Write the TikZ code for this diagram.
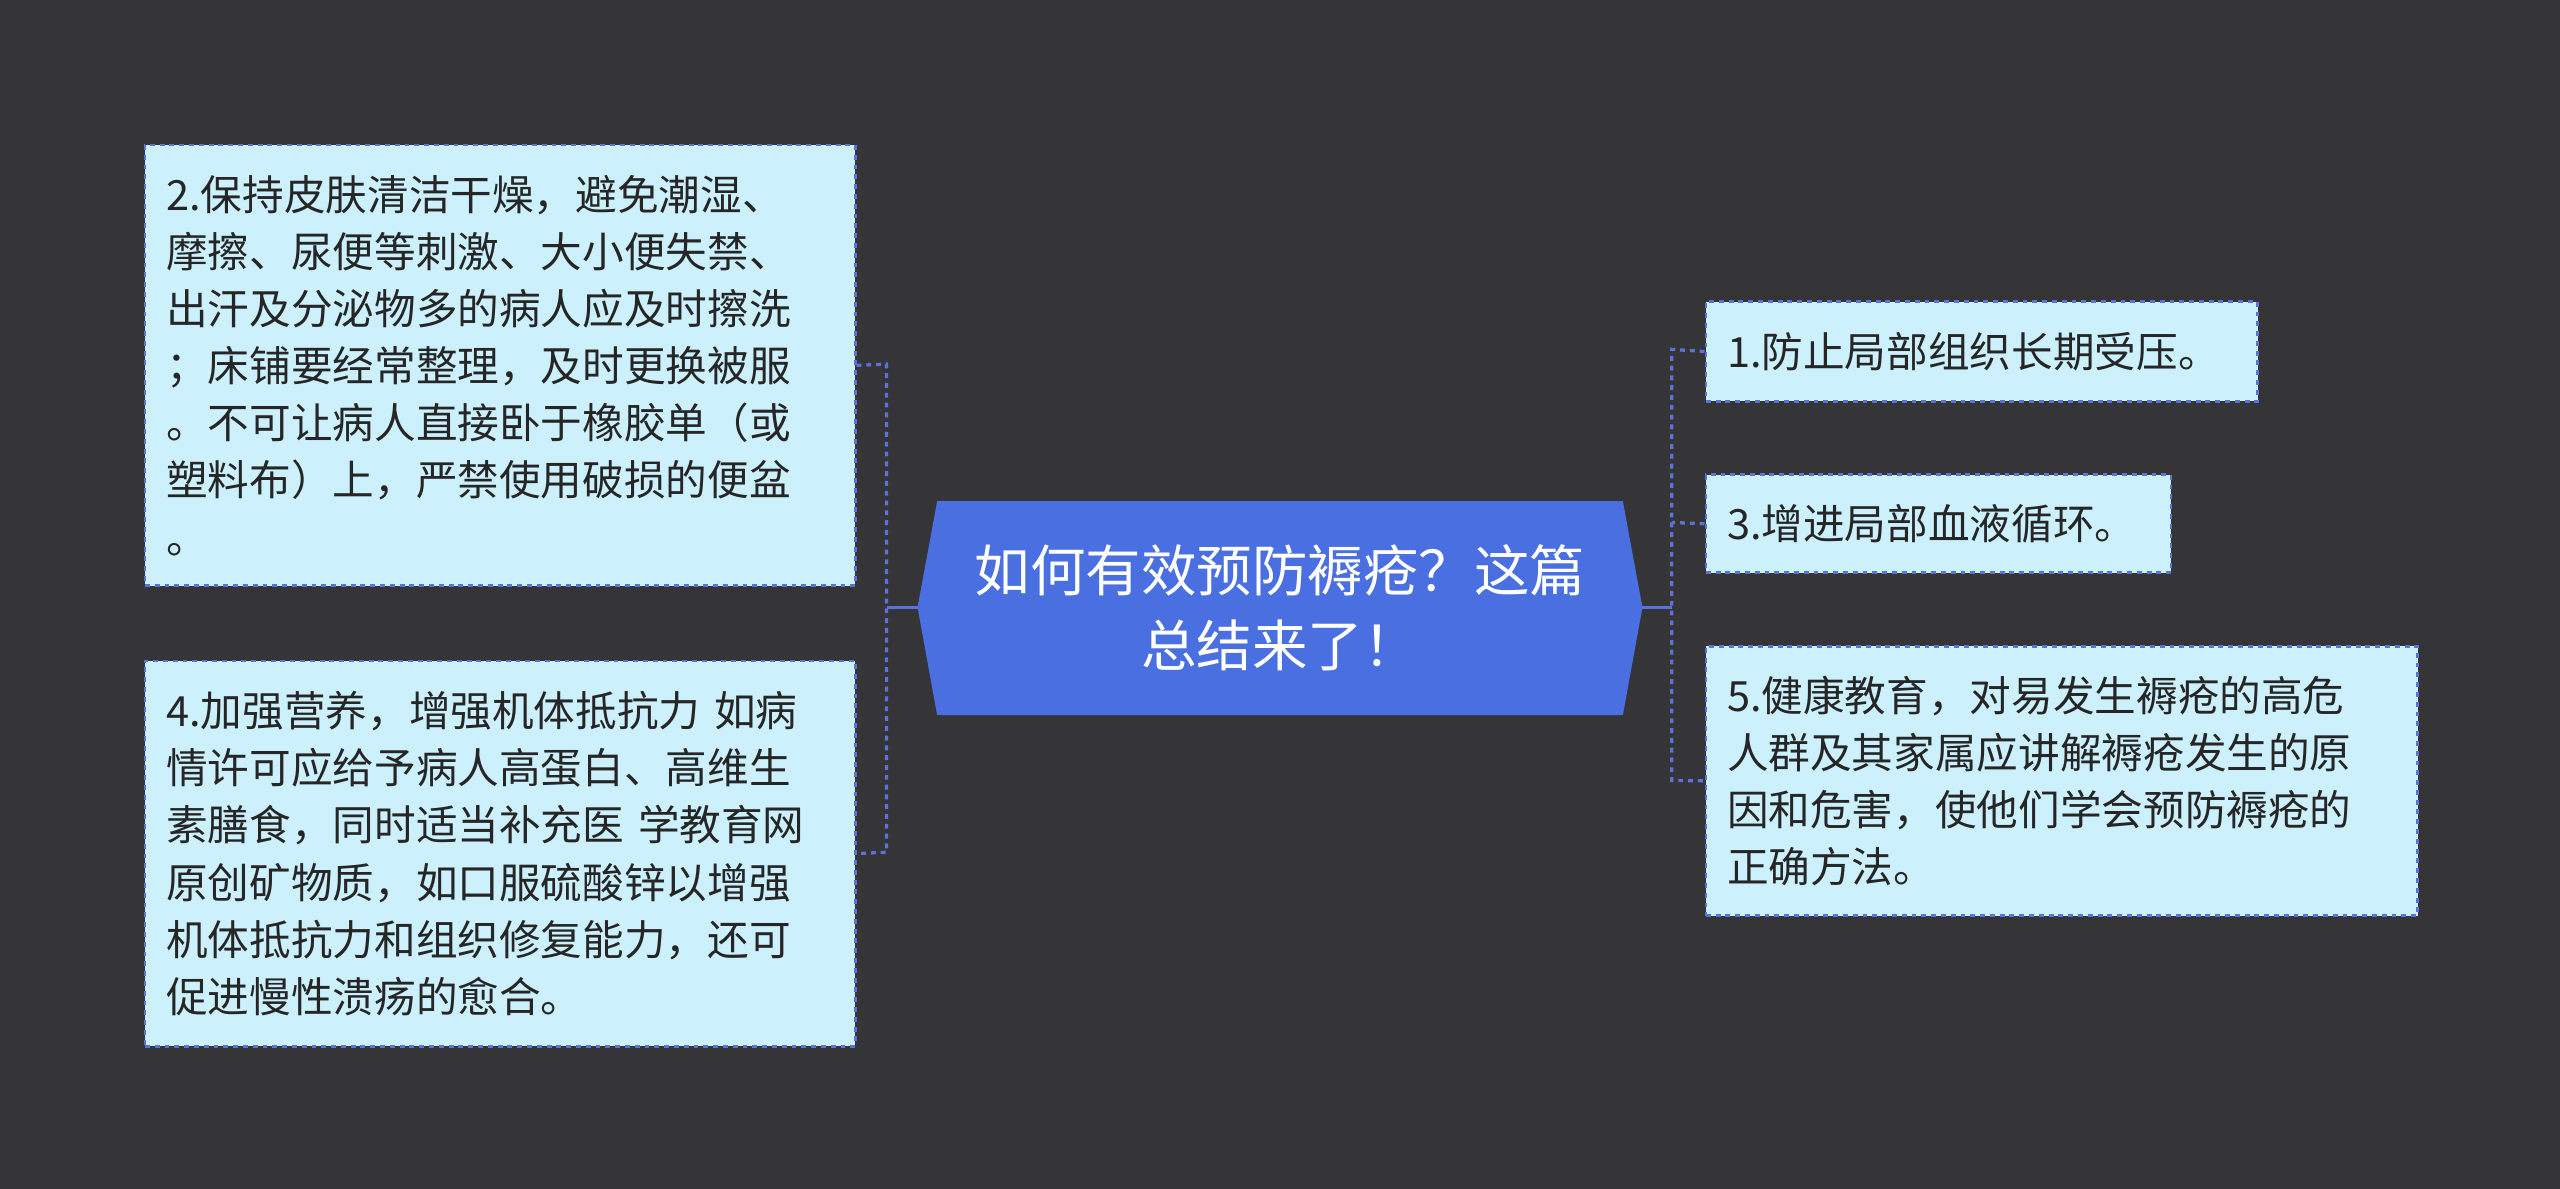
\documentclass[tikz,border=0pt]{standalone}
\usepackage{fontspec}
\newfontfamily\cjk{Noto Sans CJK SC}
\begin{document}
\begin{tikzpicture}[x=1pt,y=-1pt,
  leaf/.style={draw=linec, dashed, fill=leaff, anchor=north west, inner xsep=13pt, inner ysep=8pt, align=left, font=\cjk\fontsize{25.5}{35}\selectfont, text=black!85, line width=1.6pt},
  conn/.style={draw=linec, dashed, line width=2pt}]
\definecolor{bg}{HTML}{353437}
\definecolor{linec}{HTML}{5B72DA}
\definecolor{leaff}{HTML}{CCF1FD}
\definecolor{ctr}{HTML}{4A6FE0}
\fill[bg] (0,0) rectangle (1568,728);
\useasboundingbox (0,0) rectangle (1568,728);
% center
\fill[ctr] (562,372) -- (574,307) -- (994,307) -- (1006,372) -- (994,438) -- (574,438) -- cycle;
\node[font=\cjk\fontsize{34}{46}\selectfont, text=white, align=center] (c) at (784,372) {如何有效预防褥疮？这篇\\总结来了！};
\coordinate (cl) at (562,372);
\coordinate (cr) at (1006,372);
% left leaves
\node[leaf, minimum width=435pt, minimum height=270pt, text width=409pt] (l1) at (88,88) {2.保持皮肤清洁干燥，避免潮湿、\\摩擦、尿便等刺激、大小便失禁、\\出汗及分泌物多的病人应及时擦洗\\；床铺要经常整理，及时更换被服\\。不可让病人直接卧于橡胶单（或\\塑料布）上，严禁使用破损的便盆\\。};
\node[leaf, minimum width=435pt, minimum height=236pt, text width=409pt] (l2) at (88,404) {4.加强营养，增强机体抵抗力 如病\\情许可应给予病人高蛋白、高维生\\素膳食，同时适当补充医 学教育网\\原创矿物质，如口服硫酸锌以增强\\机体抵抗力和组织修复能力，还可\\促进慢性溃疡的愈合。};
% right leaves
\node[leaf, minimum width=338pt, minimum height=61pt, text width=312pt] (r1) at (1044,184) {1.防止局部组织长期受压。};
\node[leaf, minimum width=285pt, minimum height=60pt, text width=259pt] (r2) at (1044,290) {3.增进局部血液循环。};
\node[leaf, minimum width=436pt, minimum height=165pt, text width=410pt] (r3) at (1044,395) {5.健康教育，对易发生褥疮的高危\\人群及其家属应讲解褥疮发生的原\\因和危害，使他们学会预防褥疮的\\正确方法。};
% connectors
\draw[draw=linec, line width=2pt] (cl) -- (543,372);
\draw[conn] (l1.east) -- (543,223) -- (543,522) -- (l2.east);
\draw[draw=linec, line width=2pt] (cr) -- (1024,372);
\draw[conn] (r1.west) -- (1024,214) -- (1024,478) -- (r3.west);
\draw[conn] (r2.west) -- (1024,320);
\end{tikzpicture}
\end{document}
